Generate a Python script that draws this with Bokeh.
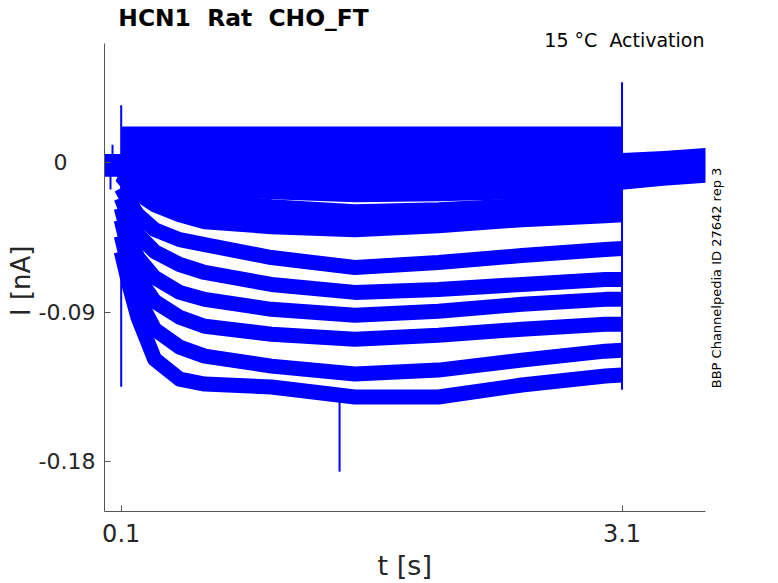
import math
from bokeh.plotting import figure
from bokeh.models import Range1d, Label, FixedTicker
from bokeh.embed import file_html
from bokeh.resources import INLINE

# ---------------- data ----------------
title_text = "HCN1\u00a0 Rat\u00a0 CHO_FT"
cond_text = "15 \u00b0C\u00a0 Activation"
side_text = "BBP Channelpedia ID 27642 rep 3"
x_label = "t [s]"
y_label = "I [nA]"

x_ticks = [0.1, 3.1]
x_tick_labels = ["0.1", "3.1"]
y_ticks = [0.0, -0.09, -0.18]
# MATLAB pads the shorter char-matrix label with trailing blanks
y_tick_labels = ["0\u00a0\u00a0\u00a0\u00a0", "-0.09", "-0.18"]

# sample times during the voltage step (s)
t_pts = [0.1, 0.15, 0.2, 0.3, 0.45, 0.6, 1.0, 1.5, 2.0, 2.5, 3.0, 3.1]

# current traces during the step (nA), one list per sweep
tr01 = [0.0174] * 12
tr02 = [0.0138] * 12
tr03 = [0.0096] * 12
tr04 = [0.0042] * 12
tr05 = [0.0012, 0.0, -0.0006, -0.0012, -0.0018, -0.0018, -0.0018, -0.0018, -0.0018, -0.0018, -0.0018, -0.0018]
tr06 = [-0.0006, -0.0024, -0.0036, -0.0054, -0.0066, -0.0072, -0.0084, -0.009, -0.009, -0.0084, -0.0078, -0.0078]
tr07 = [-0.0018, -0.0042, -0.006, -0.0084, -0.0102, -0.0114, -0.0132, -0.0144, -0.0138, -0.0132, -0.012, -0.012]
tr08 = [-0.0024, -0.0054, -0.0078, -0.0108, -0.0138, -0.015, -0.0174, -0.0192, -0.0186, -0.0174, -0.0162, -0.0162]
tr09 = [-0.0048, -0.009, -0.0126, -0.0168, -0.0204, -0.0222, -0.0264, -0.0294, -0.0282, -0.0258, -0.024, -0.024]
tr10 = [-0.0066, -0.0114, -0.0156, -0.021, -0.0258, -0.0288, -0.0324, -0.0348, -0.033, -0.03, -0.0282, -0.0276]
tr11 = [-0.0078, -0.0138, -0.0186, -0.0252, -0.0312, -0.0354, -0.0384, -0.0402, -0.0378, -0.0342, -0.0318, -0.0312]
tr12 = [-0.015, -0.024, -0.0312, -0.0402, -0.0462, -0.0492, -0.057, -0.063, -0.06, -0.0558, -0.0522, -0.0516]
tr13 = [-0.021, -0.0342, -0.0432, -0.0534, -0.0612, -0.066, -0.0732, -0.078, -0.0762, -0.0732, -0.0702, -0.0702]
tr14 = [-0.027, -0.0462, -0.057, -0.069, -0.078, -0.0822, -0.0882, -0.0918, -0.0894, -0.0852, -0.0822, -0.0822]
tr15 = [-0.0342, -0.0552, -0.069, -0.0834, -0.093, -0.0984, -0.1032, -0.1062, -0.1038, -0.1002, -0.0972, -0.0972]
tr16 = [-0.0438, -0.0642, -0.081, -0.1002, -0.111, -0.1164, -0.1224, -0.1272, -0.1248, -0.1188, -0.1134, -0.1128]
tr17 = [-0.0534, -0.0744, -0.093, -0.1182, -0.1302, -0.1332, -0.135, -0.141, -0.141, -0.1338, -0.1284, -0.1278]
traces = [tr01, tr02, tr03, tr04, tr05, tr06, tr07, tr08, tr09, tr10, tr11, tr12,
          tr13, tr14, tr15, tr16, tr17]

# noise envelope of all sweeps before the step and in the tail (nA)
pre_t = [0.0, 0.1]
pre_hi = [0.0054, 0.0054]
pre_lo = [-0.0084, -0.0084]
tail_t = [3.1, 3.35, 3.6]
tail_hi = [0.006, 0.0072, 0.009]
tail_lo = [-0.0162, -0.0138, -0.012]

# transients / artefact spikes: time, top, bottom (nA)
spike_t = [0.1, 3.1, 1.408, 0.036, 0.048]
spike_top = [0.0347, 0.0486, -0.138, 0.004, 0.011]
spike_bot = [-0.1348, -0.1366, -0.186, -0.016, -0.002]

# axes extent (the drawn axis lines)
X_AX = (0.0, 3.6)
Y_AX = (-0.21, 0.072)

# ---------------- figure ----------------
W, H = 770, 583
FL, FB = 104, 512                     # left / bottom frame edges (canvas px)
AX_RIGHT_PX, AX_TOP_PX = 705, 43      # where the axis lines end
XPX = (AX_RIGHT_PX - FL) / (X_AX[1] - X_AX[0])     # px per second
YPX = (FB - AX_TOP_PX) / (Y_AX[1] - Y_AX[0])       # px per nA

x_end = X_AX[1] + (W - AX_RIGHT_PX) / XPX
y_top = Y_AX[1] + AX_TOP_PX / YPX


def sx(px):
    return X_AX[0] + (px - FL) / XPX


def sy(py):
    return Y_AX[1] - (py - AX_TOP_PX) / YPX


p = figure(width=W, height=H, output_backend="svg", toolbar_location=None, title=None,
           x_range=Range1d(X_AX[0], x_end), y_range=Range1d(Y_AX[0], y_top),
           min_border_left=FL, min_border_right=0,
           min_border_top=0, min_border_bottom=H - FB)
p.outline_line_color = None
p.grid.visible = False
p.background_fill_color = "white"
p.border_fill_color = "white"

AX = "#555555"
TXT = "#262626"
FONT = "DejaVu Sans"
NB = "\u00a0"

for ax in (p.xaxis, p.yaxis):
    ax.axis_line_color = AX
    ax.axis_line_width = 1
    ax.major_tick_line_color = AX
    ax.major_tick_in = 6
    ax.major_tick_out = 0
    ax.minor_tick_line_color = None
    ax.major_label_text_font = FONT
    ax.major_label_text_color = TXT
    ax.major_label_text_line_height = 1.0
    ax.axis_label_text_font = FONT
    ax.axis_label_text_font_style = "normal"
    ax.axis_label_text_color = TXT
    ax.axis_label_text_line_height = 1.0

p.xaxis.bounds = X_AX
p.xaxis.ticker = FixedTicker(ticks=x_ticks)
p.xaxis.major_label_overrides = {k: v for k, v in zip(x_ticks, x_tick_labels)}
p.xaxis.major_label_text_font_size = "24px"
p.xaxis.major_label_standoff = 12
# trailing blanks keep the centred label over the drawn axis, not the wider frame
p.xaxis.axis_label = x_label + NB * 7 + "\u2009"
p.xaxis.axis_label_text_font_size = "27px"
p.xaxis.axis_label_standoff = 5

p.yaxis.bounds = Y_AX
p.yaxis.ticker = FixedTicker(ticks=y_ticks)
p.yaxis.major_label_overrides = {k: v for k, v in zip(y_ticks, y_tick_labels)}
p.yaxis.major_label_text_font_size = "22px"
p.yaxis.major_label_standoff = 9
p.yaxis.axis_label = y_label + NB * 6
p.yaxis.axis_label_text_font_size = "26px"
p.yaxis.axis_label_standoff = 0

BLUE = "#0000ff"
p.varea(x=pre_t, y1=pre_lo, y2=pre_hi, fill_color=BLUE)
p.varea(x=tail_t, y1=tail_lo, y2=tail_hi, fill_color=BLUE)
p.multi_line(xs=[t_pts] * len(traces), ys=traces, line_color=BLUE,
             line_width=15, line_join="round")
p.segment(x0=spike_t, y0=spike_top, x1=spike_t, y1=spike_bot,
          line_color=BLUE, line_width=2)

p.add_layout(Label(x=sx(243), y=sy(18), text=title_text, text_align="center",
                   text_baseline="middle", text_font=FONT, text_font_size="23.4px",
                   text_font_style="bold", text_color="black"))
p.add_layout(Label(x=sx(704), y=sy(40), text=cond_text, text_align="right",
                   text_baseline="middle", text_font=FONT, text_font_size="19px",
                   text_color="black"))
p.add_layout(Label(x=sx(716), y=sy(278), text=side_text, text_align="center",
                   text_baseline="middle", angle=math.pi / 2, text_font=FONT,
                   text_font_size="13px", text_color="black"))

open("out.html", "w").write(file_html(p, INLINE))
